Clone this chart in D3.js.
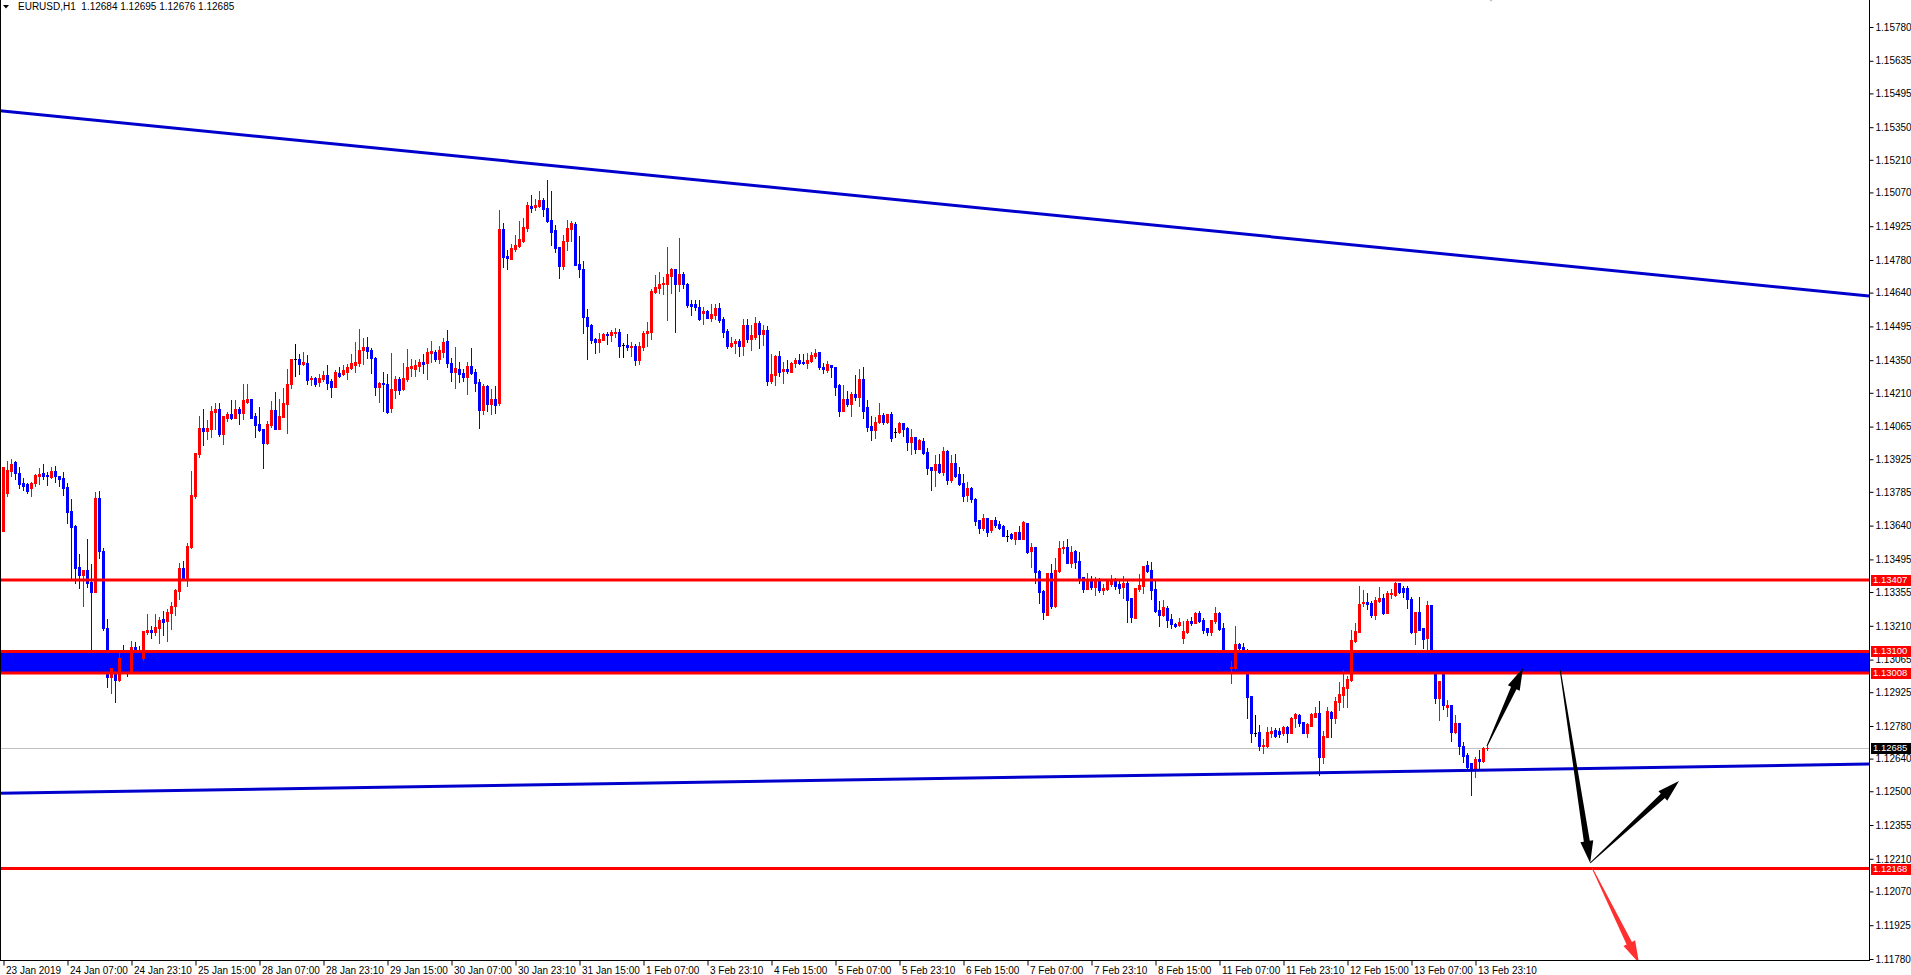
<!DOCTYPE html>
<html><head><meta charset="utf-8">
<script src="https://cdn.jsdelivr.net/npm/d3@7"></script>
<style>
body{margin:0;background:#fff;overflow:hidden}
svg{display:block}
text{font-family:"Liberation Sans",Arial,sans-serif}
</style>
</head><body>
<svg id="chart" width="1911" height="975"></svg>
<script>
// ---------- DATA ----------
const symbolTitle = "EURUSD,H1";
const lastOHLC = ["1.12684","1.12695","1.12676","1.12685"];

const openPrices = [
1.13619,1.13782,1.13876,1.13911,1.13865,1.13822,1.13819,1.13803,1.13825,1.13851,
1.13865,1.13859,1.13848,1.13873,1.13853,1.13843,1.13806,1.13703,1.13639,1.13461,
1.13426,1.13450,1.13396,1.13353,1.13759,1.13533,1.13202,1.12992,1.13006,1.12978,
1.13104,1.13085,1.13014,1.13121,1.13104,1.13071,1.13184,1.13192,1.13185,1.13202,
1.13241,1.13232,1.13267,1.13295,1.13361,1.13459,1.13407,1.13547,1.13767,1.13948,
1.14057,1.14044,1.14054,1.14129,1.14141,1.14034,1.14101,1.14119,1.14104,1.14141,
1.14125,1.14172,1.14184,1.14111,1.14077,1.14055,1.13994,1.14072,1.14137,1.14055,
1.14108,1.14162,1.14248,1.14355,1.14356,1.14333,1.14339,1.14269,1.14275,1.14258,
1.14268,1.14286,1.14260,1.14236,1.14296,1.14289,1.14300,1.14318,1.14329,1.14339,
1.14393,1.14406,1.14395,1.14361,1.14236,1.14253,1.14248,1.14146,1.14222,1.14269,
1.14226,1.14269,1.14318,1.14313,1.14325,1.14342,1.14339,1.14379,1.14386,1.14355,
1.14386,1.14432,1.14339,1.14299,1.14312,1.14295,1.14278,1.14325,1.14299,1.14258,
1.14136,1.14239,1.14162,1.14183,1.14168,1.14913,1.14797,1.14784,1.14827,1.14840,
1.14863,1.14919,1.15013,1.15006,1.15012,1.15037,1.15004,1.14952,1.14909,1.14837,
1.14754,1.14861,1.14914,1.14934,1.14763,1.14740,1.14537,1.14502,1.14441,1.14429,
1.14437,1.14463,1.14458,1.14468,1.14473,1.14415,1.14415,1.14408,1.14411,1.14351,
1.14408,1.14465,1.14473,1.14644,1.14661,1.14676,1.14676,1.14713,1.14742,1.14676,
1.14720,1.14677,1.14591,1.14591,1.14580,1.14551,1.14561,1.14533,1.14544,1.14573,
1.14527,1.14475,1.14411,1.14425,1.14433,1.14411,1.14501,1.14441,1.14448,1.14511,
1.14463,1.14480,1.14262,1.14287,1.14370,1.14305,1.14312,1.14301,1.14337,1.14351,
1.14342,1.14340,1.14348,1.14368,1.14385,1.14322,1.14308,1.14330,1.14322,1.14244,
1.14134,1.14184,1.14162,1.14205,1.14194,1.14269,1.14148,1.14068,1.14051,1.14084,
1.14115,1.14084,1.14119,1.14043,1.14043,1.14082,1.14060,1.14000,1.14022,1.13969,
1.14003,1.13957,1.13893,1.13879,1.13904,1.13872,1.13962,1.13836,1.13907,1.13860,
1.13822,1.13771,1.13800,1.13754,1.13664,1.13631,1.13671,1.13621,1.13664,1.13647,
1.13640,1.13597,1.13603,1.13583,1.13611,1.13583,1.13653,1.13532,1.13550,1.13445,
1.13361,1.13256,1.13438,1.13296,1.13445,1.13542,1.13547,1.13481,1.13531,1.13488,
1.13418,1.13369,1.13407,1.13375,1.13404,1.13364,1.13368,1.13389,1.13407,1.13388,
1.13375,1.13395,1.13328,1.13245,1.13369,1.13381,1.13471,1.13450,1.13368,1.13278,
1.13256,1.13286,1.13239,1.13218,1.13213,1.13159,1.13185,1.13231,1.13223,1.13263,
1.13235,1.13199,1.13185,1.13232,1.13266,1.13199,1.13085,1.13027,1.13027,1.13132,
1.13118,1.13099,1.12909,1.12751,1.12753,1.12695,1.12695,1.12751,1.12761,1.12758,
1.12748,1.12774,1.12751,1.12813,1.12827,1.12798,1.12751,1.12780,1.12820,1.12834,
1.12648,1.12734,1.12841,1.12816,1.12884,1.12913,1.12944,1.12977,1.13146,1.13185,
1.13306,1.13313,1.13309,1.13256,1.13316,1.13331,1.13266,1.13345,1.13342,1.13392,
1.13374,1.13374,1.13324,1.13185,1.13271,1.13199,1.13156,1.13299,1.13063,1.12901,
1.13006,1.12860,1.12870,1.12753,1.12791,1.12695,1.12655,1.12622,1.12591,1.12638,
1.12631,1.12684];

const highPrices = [
1.13893,1.13918,1.13926,1.13918,1.13893,1.13843,1.13825,1.13829,1.13861,1.13889,
1.13905,1.13868,1.13893,1.13896,1.13853,1.13872,1.13822,1.13755,1.13643,1.13519,
1.13450,1.13583,1.13476,1.13783,1.13789,1.13543,1.13240,1.13031,1.13006,1.13092,
1.13128,1.13107,1.13145,1.13142,1.13124,1.13188,1.13261,1.13210,1.13261,1.13247,
1.13274,1.13281,1.13314,1.13368,1.13481,1.13490,1.13564,1.13875,1.13953,1.14111,
1.14141,1.14094,1.14154,1.14168,1.14168,1.14111,1.14129,1.14180,1.14180,1.14151,
1.14248,1.14248,1.14184,1.14122,1.14151,1.14055,1.14087,1.14175,1.14215,1.14184,
1.14230,1.14313,1.14356,1.14420,1.14377,1.14386,1.14372,1.14282,1.14279,1.14289,
1.14303,1.14329,1.14269,1.14308,1.14320,1.14329,1.14332,1.14376,1.14428,1.14484,
1.14444,1.14451,1.14401,1.14365,1.14258,1.14300,1.14290,1.14382,1.14283,1.14276,
1.14339,1.14398,1.14356,1.14351,1.14353,1.14376,1.14401,1.14432,1.14393,1.14412,
1.14444,1.14479,1.14358,1.14408,1.14341,1.14313,1.14343,1.14402,1.14313,1.14268,
1.14246,1.14243,1.14226,1.14239,1.14994,1.14937,1.14823,1.14849,1.14887,1.14947,
1.14962,1.15027,1.15059,1.15040,1.15076,1.15047,1.15123,1.15076,1.14930,1.14837,
1.14887,1.14952,1.14949,1.14944,1.14884,1.14776,1.14570,1.14505,1.14444,1.14465,
1.14465,1.14473,1.14480,1.14487,1.14483,1.14425,1.14463,1.14428,1.14420,1.14428,
1.14475,1.14514,1.14656,1.14716,1.14727,1.14706,1.14837,1.14744,1.14742,1.14876,
1.14730,1.14683,1.14609,1.14609,1.14609,1.14577,1.14566,1.14591,1.14590,1.14594,
1.14534,1.14484,1.14448,1.14441,1.14441,1.14526,1.14527,1.14501,1.14534,1.14518,
1.14501,1.14497,1.14377,1.14372,1.14391,1.14341,1.14351,1.14344,1.14361,1.14377,
1.14377,1.14380,1.14384,1.14398,1.14385,1.14340,1.14347,1.14330,1.14322,1.14248,
1.14244,1.14219,1.14215,1.14287,1.14312,1.14322,1.14179,1.14112,1.14108,1.14168,
1.14125,1.14119,1.14129,1.14061,1.14086,1.14082,1.14065,1.14055,1.14022,1.14010,
1.14015,1.13972,1.13893,1.13943,1.13947,1.13979,1.13965,1.13943,1.13947,1.13890,
1.13862,1.13827,1.13804,1.13759,1.13664,1.13690,1.13674,1.13664,1.13678,1.13661,
1.13644,1.13621,1.13607,1.13611,1.13638,1.13661,1.13653,1.13564,1.13550,1.13450,
1.13364,1.13438,1.13475,1.13502,1.13574,1.13574,1.13583,1.13554,1.13535,1.13528,
1.13421,1.13438,1.13424,1.13418,1.13414,1.13389,1.13411,1.13428,1.13414,1.13407,
1.13424,1.13407,1.13328,1.13372,1.13432,1.13467,1.13490,1.13485,1.13407,1.13316,
1.13321,1.13295,1.13261,1.13221,1.13245,1.13231,1.13239,1.13246,1.13268,1.13273,
1.13242,1.13199,1.13235,1.13292,1.13271,1.13220,1.13090,1.13060,1.13209,1.13135,
1.13135,1.13109,1.12909,1.12827,1.12784,1.12724,1.12774,1.12774,1.12770,1.12770,
1.12780,1.12780,1.12820,1.12837,1.12831,1.12798,1.12791,1.12837,1.12863,1.12889,
1.12758,1.12863,1.12846,1.12906,1.12970,1.13020,1.12994,1.13192,1.13220,1.13381,
1.13364,1.13349,1.13318,1.13335,1.13375,1.13346,1.13361,1.13368,1.13396,1.13395,
1.13382,1.13382,1.13335,1.13271,1.13335,1.13199,1.13316,1.13299,1.13077,1.12974,
1.13009,1.12891,1.12870,1.12827,1.12791,1.12713,1.12662,1.12622,1.12645,1.12677,
1.12691,1.12695];

const lowPrices = [
1.13619,1.13765,1.13855,1.13840,1.13803,1.13793,1.13782,1.13769,1.13808,1.13819,
1.13839,1.13815,1.13843,1.13829,1.13808,1.13773,1.13653,1.13414,1.13393,1.13374,
1.13293,1.13376,1.13099,1.13353,1.13499,1.13192,1.12949,1.12923,1.12885,1.12971,
1.13078,1.12996,1.13014,1.13078,1.13064,1.13064,1.13175,1.13157,1.13171,1.13138,
1.13171,1.13145,1.13195,1.13257,1.13324,1.13407,1.13383,1.13543,1.13760,1.13936,
1.13984,1.14011,1.14022,1.14054,1.14025,1.13991,1.14091,1.14097,1.14101,1.14077,
1.14097,1.14168,1.14101,1.14022,1.14044,1.13889,1.13991,1.14065,1.14054,1.14054,
1.14105,1.14039,1.14232,1.14280,1.14291,1.14329,1.14248,1.14243,1.14239,1.14239,
1.14260,1.14226,1.14193,1.14236,1.14279,1.14286,1.14269,1.14312,1.14300,1.14325,
1.14333,1.14358,1.14296,1.14200,1.14170,1.14133,1.14125,1.14129,1.14189,1.14205,
1.14222,1.14262,1.14282,1.14283,1.14305,1.14296,1.14269,1.14341,1.14348,1.14339,
1.14365,1.14322,1.14260,1.14232,1.14255,1.14262,1.14205,1.14290,1.14219,1.14060,
1.14117,1.14133,1.14119,1.14122,1.14157,1.14751,1.14741,1.14784,1.14820,1.14837,
1.14856,1.14904,1.14984,1.14994,1.15009,1.14970,1.14944,1.14844,1.14816,1.14704,
1.14741,1.14823,1.14861,1.14758,1.14708,1.14465,1.14356,1.14422,1.14382,1.14386,
1.14437,1.14420,1.14433,1.14451,1.14362,1.14365,1.14394,1.14368,1.14330,1.14334,
1.14394,1.14411,1.14441,1.14637,1.14640,1.14634,1.14523,1.14640,1.14473,1.14647,
1.14661,1.14580,1.14544,1.14566,1.14523,1.14506,1.14530,1.14518,1.14526,1.14516,
1.14451,1.14404,1.14408,1.14382,1.14368,1.14372,1.14427,1.14394,1.14440,1.14401,
1.14415,1.14244,1.14254,1.14244,1.14284,1.14254,1.14294,1.14298,1.14320,1.14334,
1.14334,1.14318,1.14341,1.14361,1.14311,1.14294,1.14298,1.14279,1.14201,1.14112,
1.14134,1.14155,1.14112,1.14179,1.14155,1.14104,1.14046,1.14008,1.14018,1.14079,
1.14076,1.14079,1.14005,1.14022,1.14036,1.14025,1.13965,1.13947,1.13953,1.13969,
1.13947,1.13862,1.13793,1.13810,1.13867,1.13857,1.13819,1.13829,1.13847,1.13814,
1.13747,1.13747,1.13743,1.13643,1.13610,1.13621,1.13595,1.13614,1.13636,1.13625,
1.13595,1.13574,1.13584,1.13560,1.13583,1.13583,1.13524,1.13464,1.13392,1.13309,
1.13238,1.13256,1.13288,1.13292,1.13439,1.13521,1.13481,1.13461,1.13460,1.13395,
1.13354,1.13368,1.13367,1.13342,1.13354,1.13345,1.13364,1.13382,1.13368,1.13352,
1.13331,1.13228,1.13228,1.13245,1.13361,1.13352,1.13442,1.13325,1.13268,1.13209,
1.13252,1.13206,1.13199,1.13203,1.13209,1.13138,1.13178,1.13213,1.13221,1.13228,
1.13177,1.13170,1.13170,1.13220,1.13192,1.13070,1.13027,1.12966,1.13023,1.13106,
1.13063,1.12816,1.12713,1.12738,1.12677,1.12663,1.12691,1.12734,1.12734,1.12734,
1.12741,1.12713,1.12748,1.12774,1.12780,1.12748,1.12734,1.12780,1.12817,1.12570,
1.12620,1.12731,1.12731,1.12794,1.12848,1.12863,1.12863,1.12974,1.13142,1.13182,
1.13295,1.13281,1.13249,1.13239,1.13313,1.13260,1.13263,1.13328,1.13338,1.13349,
1.13335,1.13288,1.13180,1.13132,1.13192,1.13113,1.13106,1.13042,1.12880,1.12806,
1.12851,1.12823,1.12715,1.12751,1.12660,1.12627,1.12598,1.12484,1.12562,1.12591,
1.12627,1.12676];

const closePrices = [
1.13893,1.13879,1.13905,1.13865,1.13819,1.13810,1.13790,1.13822,1.13856,1.13862,
1.13853,1.13851,1.13873,1.13851,1.13842,1.13803,1.13700,1.13636,1.13460,1.13426,
1.13450,1.13393,1.13356,1.13760,1.13529,1.13202,1.12992,1.13028,1.12978,1.13071,
1.13092,1.13042,1.13121,1.13104,1.13085,1.13188,1.13192,1.13184,1.13207,1.13235,
1.13227,1.13271,1.13295,1.13364,1.13456,1.13410,1.13553,1.13772,1.13953,1.14057,
1.14044,1.14061,1.14134,1.14139,1.14034,1.14111,1.14119,1.14101,1.14141,1.14125,
1.14177,1.14184,1.14104,1.14072,1.14051,1.13996,1.14077,1.14137,1.14055,1.14111,
1.14168,1.14248,1.14356,1.14355,1.14333,1.14341,1.14265,1.14275,1.14248,1.14272,
1.14286,1.14253,1.14236,1.14300,1.14282,1.14308,1.14322,1.14339,1.14342,1.14393,
1.14406,1.14391,1.14358,1.14236,1.14253,1.14246,1.14129,1.14226,1.14269,1.14222,
1.14272,1.14322,1.14325,1.14329,1.14342,1.14333,1.14386,1.14389,1.14355,1.14393,
1.14428,1.14339,1.14299,1.14315,1.14290,1.14278,1.14325,1.14293,1.14253,1.14136,
1.14239,1.14162,1.14183,1.14157,1.14913,1.14791,1.14787,1.14830,1.14844,1.14870,
1.14921,1.15016,1.15004,1.15016,1.15037,1.14999,1.14949,1.14901,1.14833,1.14756,
1.14861,1.14919,1.14937,1.14758,1.14740,1.14534,1.14498,1.14437,1.14429,1.14441,
1.14463,1.14458,1.14473,1.14473,1.14411,1.14415,1.14405,1.14411,1.14351,1.14411,
1.14468,1.14477,1.14649,1.14664,1.14677,1.14680,1.14720,1.14742,1.14676,1.14720,
1.14676,1.14587,1.14583,1.14580,1.14527,1.14561,1.14533,1.14548,1.14573,1.14523,
1.14473,1.14411,1.14423,1.14434,1.14411,1.14501,1.14441,1.14458,1.14511,1.14463,
1.14480,1.14262,1.14291,1.14370,1.14301,1.14312,1.14304,1.14340,1.14351,1.14340,
1.14340,1.14351,1.14372,1.14382,1.14320,1.14311,1.14332,1.14320,1.14237,1.14134,
1.14184,1.14162,1.14205,1.14194,1.14269,1.14134,1.14065,1.14051,1.14084,1.14115,
1.14084,1.14119,1.14018,1.14043,1.14082,1.14055,1.14000,1.14022,1.13969,1.14007,
1.13950,1.13889,1.13879,1.13904,1.13872,1.13960,1.13836,1.13907,1.13853,1.13819,
1.13767,1.13800,1.13754,1.13661,1.13631,1.13671,1.13614,1.13664,1.13643,1.13631,
1.13597,1.13597,1.13588,1.13611,1.13583,1.13657,1.13528,1.13550,1.13439,1.13355,
1.13271,1.13438,1.13295,1.13450,1.13545,1.13550,1.13481,1.13528,1.13485,1.13409,
1.13369,1.13407,1.13375,1.13407,1.13364,1.13372,1.13407,1.13407,1.13382,1.13374,
1.13395,1.13321,1.13246,1.13372,1.13385,1.13467,1.13447,1.13364,1.13275,1.13256,
1.13289,1.13235,1.13218,1.13209,1.13225,1.13188,1.13231,1.13223,1.13263,1.13232,
1.13192,1.13185,1.13235,1.13266,1.13195,1.13085,1.13042,1.13034,1.13132,1.13113,
1.13103,1.12906,1.12751,1.12751,1.12695,1.12698,1.12754,1.12758,1.12737,1.12745,
1.12774,1.12751,1.12816,1.12830,1.12794,1.12751,1.12788,1.12830,1.12837,1.12648,
1.12737,1.12844,1.12816,1.12887,1.12917,1.12949,1.12980,1.13149,1.13189,1.13303,
1.13313,1.13303,1.13256,1.13321,1.13331,1.13266,1.13352,1.13352,1.13392,1.13354,
1.13356,1.13324,1.13185,1.13271,1.13192,1.13153,1.13299,1.13063,1.12901,1.12974,
1.12870,1.12870,1.12756,1.12791,1.12695,1.12651,1.12605,1.12591,1.12638,1.12631,
1.12687,1.12685];

// time-axis labels (one every 16 bars)
const timeLabels = ["23 Jan 2019","24 Jan 07:00","24 Jan 23:10","25 Jan 15:00","28 Jan 07:00","28 Jan 23:10",
"29 Jan 15:00","30 Jan 07:00","30 Jan 23:10","31 Jan 15:00","1 Feb 07:00","3 Feb 23:10","4 Feb 15:00",
"5 Feb 07:00","5 Feb 23:10","6 Feb 15:00","7 Feb 07:00","7 Feb 23:10","8 Feb 15:00","11 Feb 07:00",
"11 Feb 23:10","12 Feb 15:00","13 Feb 07:00","13 Feb 23:10"];
const timeLabelBars = [0,16,32,48,64,80,96,112,128,144,160,176,192,208,224,240,256,272,288,304,320,336,352,368];

// price-axis tick labels
const priceTicks = [1.15780,1.15635,1.15495,1.15350,1.15210,1.15070,1.14925,1.14780,1.14640,1.14495,
1.14350,1.14210,1.14065,1.13925,1.13785,1.13640,1.13495,1.13355,1.13210,1.13065,1.12925,1.12780,
1.12640,1.12500,1.12355,1.12210,1.12070,1.11925,1.11780];

// horizontal levels, zone, current price
const redLevels = [1.13407, 1.13100, 1.13008, 1.12168];
const zoneLevels = [1.13100, 1.13008];
const currentPrice = 1.12685;

// trend lines: anchor bars and prices
const upperTrendBars = [0, 371], upperTrendPrices = [1.15419, 1.14788];
const lowerTrendBars = [0, 371], lowerTrendPrices = [1.12492, 1.12591];

// projection arrows: [bar, price] start and end
const blackArrowStarts = [[371, 1.12694], [389.3, 1.13020], [396.8, 1.12192]];
const blackArrowEnds   = [[380, 1.13029], [396.8, 1.12192], [419, 1.12544]];
const redArrowStart = [397.3, 1.12170], redArrowEnd = [409, 1.11763];

// small marker at the top edge
const topMarker = [372, 1.15910];

// ---------- DRAW ----------
const svg = d3.select("#chart");
const plotR = 1869, plotB = 960;
const x = d3.scaleLinear().domain([0, 371]).range([3, 1487]);
const y = d3.scaleLinear().domain([1.11780, 1.15780]).range([959, 27]);

svg.append("defs").append("clipPath").attr("id","plot")
  .append("rect").attr("x",0).attr("y",0).attr("width",plotR).attr("height",plotB);
const g = svg.append("g").attr("clip-path","url(#plot)");

// zone rectangle
g.append("rect").attr("x",0).attr("width",plotR)
  .attr("y", y(zoneLevels[0])).attr("height", y(zoneLevels[1]) - y(zoneLevels[0]))
  .attr("fill","#0000FF");

// current price line
g.append("line").attr("x1",0).attr("x2",plotR)
  .attr("y1", Math.round(y(currentPrice))+0.5).attr("y2", Math.round(y(currentPrice))+0.5)
  .attr("stroke","#C0C0C0").attr("stroke-width",1);

// candles
const bars = d3.range(openPrices.length).map(i => ({
  i, o: openPrices[i], h: highPrices[i], l: lowPrices[i], c: closePrices[i]
}));
const col = d => d.c > d.o ? "#FF0000" : (d.c < d.o ? "#0000FF" : "#000000");
const cg = g.append("g");
cg.selectAll("rect.wick").data(bars).join("rect").attr("class","wick")
  .attr("x", d => Math.round(x(d.i)))
  .attr("width", 1)
  .attr("y", d => Math.round(y(d.h)))
  .attr("height", d => Math.max(1, Math.round(y(d.l)) - Math.round(y(d.h)) + 1))
  .attr("fill", col);
cg.selectAll("rect.body").data(bars).join("rect").attr("class","body")
  .attr("x", d => Math.round(x(d.i)) - 1)
  .attr("width", 3)
  .attr("y", d => Math.round(y(Math.max(d.o, d.c))))
  .attr("height", d => Math.max(1, Math.round(y(Math.min(d.o, d.c))) - Math.round(y(Math.max(d.o, d.c))) + 1))
  .attr("fill", col);

// red horizontal levels
g.selectAll("line.lvl").data(redLevels).join("line").attr("class","lvl")
  .attr("x1",0).attr("x2",plotR)
  .attr("y1", d => y(d)).attr("y2", d => y(d))
  .attr("stroke","#FF0000").attr("stroke-width",3);

// trend lines, extended across the plot
function trend(bs, ps){
  const slope = (ps[1]-ps[0])/(bs[1]-bs[0]);
  const b0 = x.invert(0), b1 = x.invert(plotR);
  return [[0, y(ps[0] + slope*(b0-bs[0]))], [plotR, y(ps[0] + slope*(b1-bs[0]))]];
}
[[upperTrendBars, upperTrendPrices],[lowerTrendBars, lowerTrendPrices]].forEach(([b,p]) => {
  const pts = trend(b,p);
  g.append("line").attr("x1",pts[0][0]).attr("y1",pts[0][1]).attr("x2",pts[1][0]).attr("y2",pts[1][1])
    .attr("stroke","#0000CD").attr("stroke-width",3);
});

// arrows (thin tail widening to a long head)
function arrowPath(p0, p1){
  const x1 = x(p0[0]), y1 = y(p0[1]), x2 = x(p1[0]), y2 = y(p1[1]);
  const dx = x2-x1, dy = y2-y1, L = Math.hypot(dx,dy), ux = dx/L, uy = dy/L, nx = -uy, ny = ux;
  const hl = 22, hw = 13, w0 = 1, w1 = 6;
  const bx = x2 - ux*hl, by = y2 - uy*hl;
  const pts = [[x1+nx*w0/2, y1+ny*w0/2],[bx+nx*w1/2, by+ny*w1/2],[bx+nx*hw/2, by+ny*hw/2],[x2,y2],
               [bx-nx*hw/2, by-ny*hw/2],[bx-nx*w1/2, by-ny*w1/2],[x1-nx*w0/2, y1-ny*w0/2]];
  return "M" + pts.map(p => p.join(",")).join("L") + "Z";
}
blackArrowStarts.forEach((s,k) => {
  g.append("path").attr("d", arrowPath(s, blackArrowEnds[k])).attr("fill","#000");
});
g.append("path").attr("d", arrowPath(redArrowStart, redArrowEnd)).attr("fill","#FF3030");

// top marker
g.append("path")
  .attr("transform", `translate(${x(topMarker[0])},${y(topMarker[1])})`)
  .attr("d","M0,-5L5,0L0,5L-5,0Z").attr("fill","#C8C8C8");

// frame
svg.append("line").attr("x1",0.5).attr("x2",0.5).attr("y1",0).attr("y2",plotB).attr("stroke","#000");
svg.append("line").attr("x1",plotR+0.5).attr("x2",plotR+0.5).attr("y1",0).attr("y2",plotB+0.5).attr("stroke","#000");
svg.append("line").attr("x1",0).attr("x2",plotR+1).attr("y1",plotB+0.5).attr("y2",plotB+0.5).attr("stroke","#000");

const FS = "10px";
// price axis
const yAxis = d3.axisRight(y).tickValues(priceTicks).tickFormat(d3.format(".5f")).tickSize(4).tickPadding(2);
const ya = svg.append("g").attr("transform",`translate(${plotR+0.5},0)`).call(yAxis);
ya.select(".domain").remove();
ya.selectAll("text").attr("font-size",FS).attr("fill","#000").style("font-family","'Liberation Sans',Arial,sans-serif");
ya.selectAll("line").attr("stroke","#000");

// time axis
const xAxis = d3.axisBottom(x).tickValues(timeLabelBars).tickFormat((d,k) => timeLabels[k]).tickSize(5).tickPadding(1);
const xa = svg.append("g").attr("transform",`translate(0.5,${plotB+0.5})`).call(xAxis);
xa.select(".domain").remove();
xa.selectAll("text").attr("text-anchor","start").attr("dx","2px").attr("font-size",FS).attr("fill","#000")
  .style("font-family","'Liberation Sans',Arial,sans-serif");
xa.selectAll("line").attr("stroke","#000");

// level tags on price axis
const tags = redLevels.map(v => ({v, bg:"#FF0000"})).concat([{v: currentPrice, bg:"#000000"}]);
const tg = svg.append("g");
tags.forEach(t => {
  const yy = Math.round(y(t.v));
  tg.append("rect").attr("x", plotR+2).attr("y", yy-5).attr("width", 1911-plotR-2).attr("height", 11).attr("fill", t.bg);
  tg.append("text").attr("x", plotR+4).attr("y", yy+0.5).attr("dominant-baseline","middle")
    .attr("font-size","9.5px").attr("fill","#fff").text(d3.format(".5f")(t.v));
});

// header
const hdr = svg.append("g");
hdr.append("rect").attr("x",1).attr("y",0).attr("width",224).attr("height",13).attr("fill","#fff");
hdr.append("path").attr("d","M3,5L9,5L6,8.5Z").attr("fill","#000");
hdr.append("text").attr("x",18).attr("y",7).attr("dominant-baseline","middle").attr("font-size",FS).attr("fill","#000")
  .attr("xml:space","preserve").text(symbolTitle + "  " + lastOHLC.join(" "));
</script>
</body></html>
